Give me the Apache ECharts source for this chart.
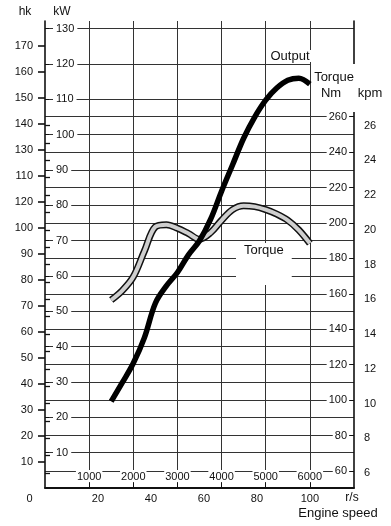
<!DOCTYPE html>
<html><head><meta charset="utf-8">
<script src="https://cdn.jsdelivr.net/npm/echarts@6/dist/echarts.min.js"></script>
<style>html,body{margin:0;padding:0;background:#fff}#c{width:391px;height:526px}</style>
</head><body><div id="c"></div>
<script>
// ---- data ----
const rpm       = [1500, 1750, 2000, 2250, 2500, 2750, 3000, 3250, 3500, 3750, 4000, 4250, 4500, 4750, 5000, 5250, 5500, 5750, 6000];
const outputKW  = [24.5, 29.8, 35.3, 42.5, 52.3, 57.2, 61.0, 66.0, 70.0, 76.0, 84.0, 91.5, 99.0, 105.0, 109.8, 113.2, 115.4, 116.0, 114.3];
const torqueNm  = [156.5, 161.8, 169.6, 184.0, 197.8, 199.0, 197.0, 194.0, 190.8, 194.5, 201.5, 207.5, 209.7, 209.2, 207.5, 205.0, 201.5, 196.0, 188.5];

const rpmTicks  = [1000, 2000, 3000, 4000, 5000, 6000];
const rpsTicks  = [0, 20, 40, 60, 80, 100];
const hkTicks   = [10, 20, 30, 40, 50, 60, 70, 80, 90, 100, 110, 120, 130, 140, 150, 160, 170];
const hkLabels  = ['10', '20', '30', '40', '50', '60', '70', '80', '90', '100', '120', '110', '130', '140', '150', '160', '170'];
const kwTicks   = [10, 20, 30, 40, 50, 60, 70, 80, 90, 100, 110, 120, 130];
const nmTicks   = [60, 80, 100, 120, 140, 160, 180, 200, 220, 240, 260];
const kpmTicks  = [6, 7, 8, 9, 10, 11, 12, 13, 14, 15, 16, 17, 18, 19, 20, 21, 22, 23, 24, 25, 26];
const kpmLabels = [6, 8, 10, 12, 14, 16, 18, 20, 22, 24, 26];

// ---- axis ranges ----
const KW_PER_HK = 0.73549875, NM_PER_KPM = 9.80665;
const rpmMax = 7000;
const kwMax = 132.18, hkMax = kwMax / KW_PER_HK;
const nmMin = 50.41, nmMax = 313.95;

const FONT = '"Liberation Sans", Arial, sans-serif';
const INK = '#111';
const GRID = '#333';

const chart = echarts.init(document.getElementById('c'), null, {renderer: 'canvas'});
const txt = (text, x, y, size, extra) => ({
  type: 'text', z: 5,
  style: Object.assign({text, x, y, fill: INK, font: size + 'px ' + FONT, align: 'center', verticalAlign: 'middle'}, extra || {})
});

chart.setOption({
  animation: false,
  backgroundColor: '#fff',
  textStyle: {fontFamily: FONT, color: INK},
  grid: {left: 45, right: 37, top: 21, bottom: 38, containLabel: false},
  xAxis: [
    {
      type: 'value', min: 0, max: rpmMax, position: 'bottom',
      axisLine: {show: true, onZero: false, lineStyle: {color: INK, width: 1.8}},
      axisTick: {show: true, inside: true, length: 5, customValues: rpmTicks, lineStyle: {color: INK}},
      axisLabel: {inside: true, margin: 6, customValues: rpmTicks, fontSize: 11, color: INK, fontFamily: FONT,
                  formatter: v => String(v),
                  backgroundColor: '#fff', padding: [1, 1, 0, 1]},
      splitLine: {show: true, lineStyle: {color: GRID, width: 1}}
    },
    {
      type: 'value', min: 0, max: rpmMax / 60, position: 'bottom',
      axisLine: {show: false}, axisTick: {show: false}, splitLine: {show: false},
      axisLabel: {customValues: rpsTicks, margin: 5, fontSize: 11, color: INK, fontFamily: FONT,
                  formatter: v => v === 0 ? '{z|0}' : String(v),
                  rich: {z: {fontSize: 11, fontFamily: FONT, color: INK, padding: [0, 31, 0, 0]}}}
    }
  ],
  yAxis: [
    { // hk
      type: 'value', min: 0, max: hkMax, position: 'left',
      axisLine: {show: true, onZero: false, lineStyle: {color: INK, width: 1.6}},
      axisTick: {show: true, length: 7, customValues: hkTicks, lineStyle: {color: INK, width: 1.6}},
      axisLabel: {customValues: hkTicks, margin: 12, fontSize: 11, color: INK, fontFamily: FONT,
                  formatter: v => hkLabels[hkTicks.indexOf(Math.round(v))]},
      splitLine: {show: false}
    },
    { // kW
      type: 'value', min: 0, max: kwMax, position: 'left',
      axisLine: {show: false},
      axisTick: {show: true, inside: true, length: 4, customValues: kwTicks, lineStyle: {color: INK}},
      axisLabel: {inside: true, customValues: kwTicks, margin: 8, fontSize: 11, color: INK, fontFamily: FONT,
                  backgroundColor: '#fff', padding: [0, 3]},
      splitLine: {show: true, lineStyle: {color: GRID, width: 1}}
    },
    { // Nm
      type: 'value', min: nmMin, max: nmMax, position: 'right',
      axisLine: {show: true, onZero: false, lineStyle: {color: INK, width: 1.6}},
      axisTick: {show: true, inside: true, length: 4, customValues: nmTicks, lineStyle: {color: INK}},
      axisLabel: {inside: true, customValues: nmTicks, margin: 5, fontSize: 11, color: INK, fontFamily: FONT,
                  backgroundColor: '#fff', padding: [0, 2]},
      splitLine: {show: true, lineStyle: {color: GRID, width: 1}}
    },
    { // kpm
      type: 'value', min: nmMin / NM_PER_KPM, max: nmMax / NM_PER_KPM, position: 'right',
      axisLine: {show: false},
      axisTick: {show: true, length: 5, customValues: kpmTicks, lineStyle: {color: INK, width: 1.3}},
      axisLabel: {customValues: kpmLabels, margin: 10, fontSize: 11, color: INK, fontFamily: FONT},
      splitLine: {show: false}
    }
  ],
  graphic: [
    txt('hk', 25, 12, 12),
    txt('kW', 62, 12, 12),
    txt('Output', 290, 56, 13, {backgroundColor: '#fff', padding: [0, 2], lineHeight: 12}),
    {type: 'rect', z: 4, shape: {x: 311, y: 64, width: 47, height: 48}, style: {fill: '#fff'}},
    txt('Torque', 334, 77, 13),
    txt('Nm', 331, 93, 13),
    txt('kpm', 370, 93, 13),
    txt('Torque', 236, 243, 13, {align: 'left', verticalAlign: 'top', backgroundColor: '#fff', padding: [1, 8, 28, 8], lineHeight: 13}),
    txt('r/s', 352, 498, 12),
    txt('Engine speed', 338, 513, 13)
  ],
  series: [
    {
      name: 'Torque outline', type: 'line', xAxisIndex: 0, yAxisIndex: 2, z: 6,
      data: rpm.map((r, i) => [r, torqueNm[i]]),
      smooth: 0.35, showSymbol: false, silent: true,
      lineStyle: {color: '#111', width: 7, cap: 'butt'}
    },
    {
      name: 'Torque', type: 'line', xAxisIndex: 0, yAxisIndex: 2, z: 7,
      data: rpm.map((r, i) => [r, torqueNm[i]]),
      smooth: 0.35, showSymbol: false, silent: true,
      lineStyle: {color: '#cfcfcf', width: 4, cap: 'butt'}
    },
    {
      name: 'Output', type: 'line', xAxisIndex: 0, yAxisIndex: 1, z: 8,
      data: rpm.map((r, i) => [r, outputKW[i]]),
      smooth: 0.35, showSymbol: false, silent: true,
      lineStyle: {color: '#000', width: 5.5, cap: 'butt'}
    }
  ]
});
</script>
</body></html>
